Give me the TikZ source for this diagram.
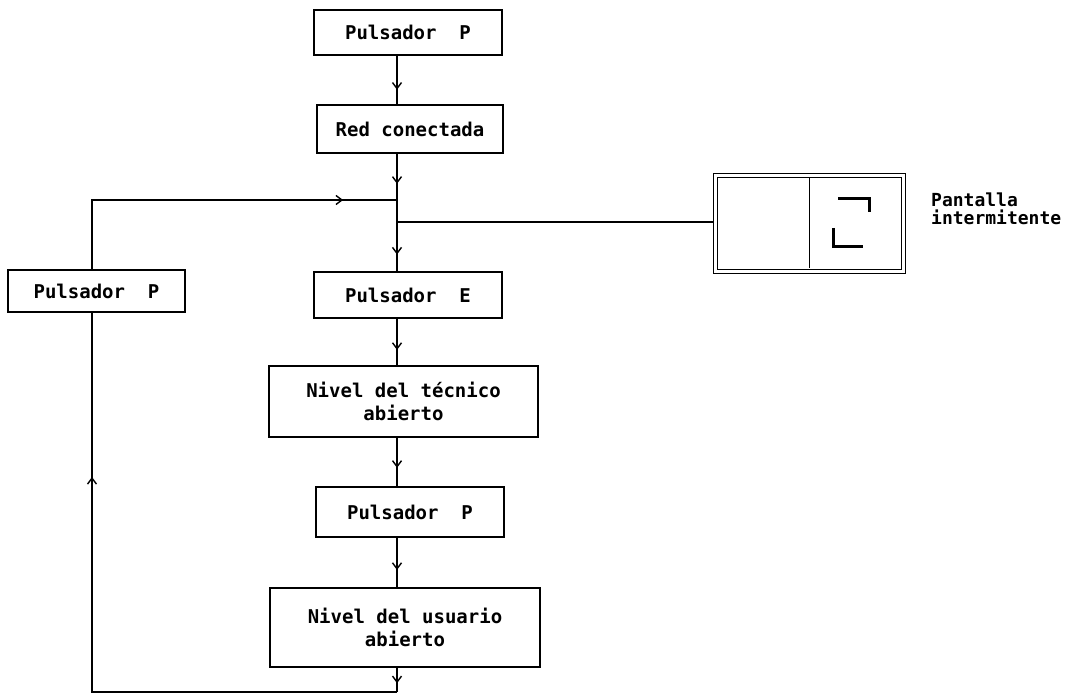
\documentclass[tikz,border=0pt]{standalone}
\usepackage{fontspec}
\setmonofont{DejaVu Sans Mono}
\usetikzlibrary{decorations.markings,arrows.meta}
\begin{document}
\begin{tikzpicture}[x=1pt,y=-1pt,
  box/.style={draw,line width=1.4pt,inner sep=0pt,align=center,
    font=\ttfamily\bfseries\fontsize{19}{23}\selectfont},
  conn/.style={line width=1.4pt},
  flow/.style={conn,postaction={decorate},decoration={markings,
    mark=at position #1 with {\arrow{Straight Barb[length=6pt,width=9pt,line width=1.4pt]}}}}]
\useasboundingbox (0,0) rectangle (1080,700);
\coordinate (c) at (397,0);
\node[box,minimum width=188,minimum height=45] (p1) at (408,32.5) {Pulsador~~P};
\node[box,minimum width=186,minimum height=48] (red) at (410,129) {Red conectada};
\coordinate (j1) at (397,200);
\coordinate (j2) at (397,222);
\node[box,minimum width=188,minimum height=46] (pe) at (408,295) {Pulsador~~E};
\node[box,minimum width=269,minimum height=71] (tec) at (403.5,401.5) {Nivel del técnico\\abierto};
\node[box,minimum width=188,minimum height=50] (pp) at (410,512) {Pulsador~~P};
\node[box,minimum width=270,minimum height=79] (usu) at (405,627.5) {Nivel del usuario\\abierto};
\coordinate (b) at (397,692);
\coordinate (bl) at (92,692);
\node[box,minimum width=177,minimum height=42] (lp) at (96.5,291) {Pulsador~~P};
\coordinate (tl) at (92,200);
% display
\node[draw,line width=1.2pt,double,double distance=2.4pt,minimum width=188,minimum height=96,inner sep=0pt] (disp) at (809.5,223.5) {};
\draw[line width=1.3pt] ([yshift=-3.6pt]disp.north) -- ([yshift=3.6pt]disp.south);
\draw[line width=3pt] (838,199) -- (869,199) -- (869,212);
\draw[line width=3pt] (833,228) -- (833,247) -- (863,247);
\node[anchor=north west,align=left,inner sep=0pt,font=\ttfamily\bfseries\fontsize{18}{18}\selectfont] (lbl) at (931,193) {Pantalla\\intermitente};
% connectors
\draw[flow=0.7] (p1.south -| c) -- (red.north -| c);
\draw[flow=0.65] (red.south -| c) -- (j1);
\draw[conn] (j1) -- (j2);
\draw[flow=0.66] (j2) -- (pe.north -| c);
\draw[flow=0.67] (pe.south -| c) -- (tec.north -| c);
\draw[flow=0.62] (tec.south -| c) -- (pp.north -| c);
\draw[flow=0.65] (pp.south -| c) -- (usu.north -| c);
\draw[flow=0.64] (usu.south -| c) -- (b);
\draw[flow=0.76] (b) -- (bl) -- (lp.south -| bl);
\draw[flow=0.856] (lp.north -| tl) -- (tl) -- (j1);
\draw[conn,shorten >=2.4pt] (j2) -- (j2 -| disp.west);
\end{tikzpicture}
\end{document}
